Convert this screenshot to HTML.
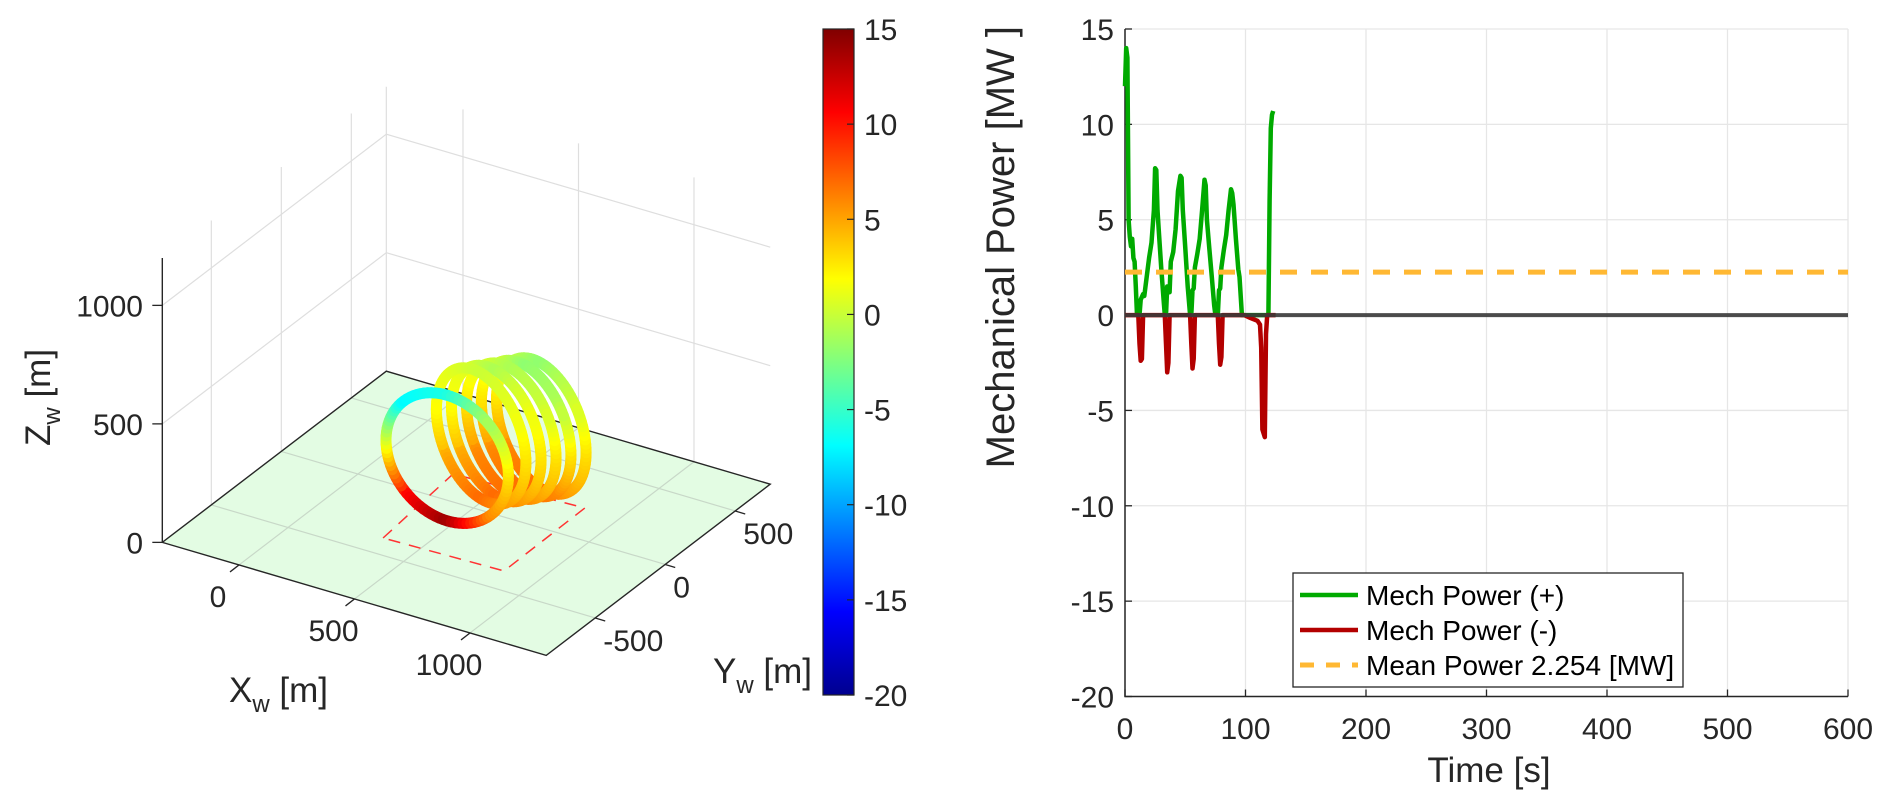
<!DOCTYPE html>
<html><head><meta charset="utf-8">
<style>
html,body{margin:0;padding:0;background:#fff;}
svg{display:block;font-family:"Liberation Sans",Arial,sans-serif;}
</style></head>
<body>
<svg id="fig" width="1892" height="807" viewBox="0 0 1892 807" xmlns="http://www.w3.org/2000/svg">
<defs>
<linearGradient id="jet" x1="0" y1="1" x2="0" y2="0">
<stop offset="0" stop-color="#00008f"/>
<stop offset="0.125" stop-color="#0000ff"/>
<stop offset="0.375" stop-color="#00ffff"/>
<stop offset="0.625" stop-color="#ffff00"/>
<stop offset="0.875" stop-color="#ff0000"/>
<stop offset="1" stop-color="#800000"/>
</linearGradient>
</defs>
<g id="left3d"></g>
<g id="cbar"></g>
<g id="right"></g>
</svg>
<script>
// ---------- Right chart data ----------
const xTicks = [0,100,200,300,400,500,600];
const yTicks = [15,10,5,0,-5,-10,-15,-20];
const greenT = [0,1,2,3,4,5,6,7,8,9,10,11,12,13,15,16,18,20,22,24,25,26,27,28,30,32,33,34,35,36,37,38,40,42,44,46,47,48,50,52,54,55,56,57,58,60,62,64,66,67,68,70,72,74,75,77,78,79,80,82,84,86,88,89,90,92,94,95,97,100,118,119,120,121,122,123];
const greenV = [12,14,13.5,5,4.1,3.6,4,3.0,2.8,1.5,0,0,0,0.8,1.1,1.0,2.0,3.0,3.8,5.5,7.7,7.6,5.5,4.5,2.5,0.8,0,0,1.5,1.5,1.2,2.8,3.3,4.5,6.5,7.3,7.2,5.5,3.5,1.5,0,0,1.3,1.4,2.5,3.2,4.0,5.5,7.1,6.8,5.0,3.5,2.0,0.5,0,0,1.3,1.4,2.5,3.4,4.2,5.5,6.6,6.4,5.8,4.0,2.4,2.0,0,0,0,0,6.0,9.8,10.5,10.7];
const redT = [0,11,12,13,14,15,33,34,35,36,37,54,55,56,57,58,77,78,79,80,81,99,104,110,112,113,114,115,116,117,118,125];
const redV = [0,0,-1.5,-2.4,-2.3,0,0,-1.5,-3.0,-2.5,0,0,-1.5,-2.8,-2.3,0,0,-1.5,-2.6,-2.2,0,0,-0.15,-0.3,-0.5,-1.7,-6.0,-6.2,-6.4,-1.0,0,0];
const meanPower = [2.254];
const zeroLine = [0];

// ---------- 3D data ----------
const zTicks3 = [0,500,1000];
const xTicks3 = [0,500,1000];
const yTicks3 = [-500,0,500];
const loopX = [485,501,538,575,611,648];
const loopY = [-163,53,100,146,193,240];
const loopZ = [280,280,280,280,280,280];
const loopColors = [
 [3,-1,-6,-7,1,10,14,6],
 [3,1,0,1,2,5,7,5],
 [3,1,-1,1,2,5,7,5],
 [3,0,-1,1,3,6,7,5],
 [3,-1,-2,1,3,6,7,6],
 [3,0,-2,0,3,6,7,5]
];
const zoneX = [340,297,848,853];
const zoneY = [-382,189,221,-364];
const cbarTicks = [15,10,5,0,-5,-10,-15,-20];

const NS="http://www.w3.org/2000/svg";
function mk(tag,attrs,parent){const e=document.createElementNS(NS,tag);for(const k in attrs)e.setAttribute(k,attrs[k]);parent.appendChild(e);return e;}

// ===== Right chart =====
(function(){
 const g=document.getElementById('right');
 const L=1125,R=1848,T=29,B=696.5;
 const xs=t=>L+(t-0)/600*(R-L);
 const ys=v=>T+(15-v)/35*(B-T);
 for(const t of xTicks){const l=mk('line',{x1:xs(t),x2:xs(t),y1:T,y2:B,stroke:'#e6e6e6','stroke-width':1.3},g);
  }
 for(const v of yTicks){const l=mk('line',{x1:L,x2:R,y1:ys(v),y2:ys(v),stroke:'#e6e6e6','stroke-width':1.3},g);
  }
 const ax=mk('path',{d:`M${L},${T} L${L},${B} L${R},${B}`,fill:'none',stroke:'#262626','stroke-width':1.5},g);
 
 for(const t of xTicks){const l=mk('line',{x1:xs(t),x2:xs(t),y1:B,y2:B-7,stroke:'#262626','stroke-width':1.3},g);
  
  const tx=mk('text',{x:xs(t),y:739,'text-anchor':'middle','font-size':30,fill:'#262626'},g);tx.textContent=t;
  }
 for(const v of yTicks){const l=mk('line',{x1:L,x2:L+7,y1:ys(v),y2:ys(v),stroke:'#262626','stroke-width':1.3},g);
  
  const tx=mk('text',{x:1114,y:ys(v)+11,'text-anchor':'end','font-size':30,fill:'#262626'},g);tx.textContent=v;
  }
 const path=(T_,V_)=>T_.map((t,i)=>(i?'L':'M')+xs(t).toFixed(1)+','+ys(V_[i]).toFixed(1)).join(' ');
 const gl=mk('path',{d:path(greenT,greenV),fill:'none',stroke:'#00aa00','stroke-width':4.5,'stroke-linejoin':'round'},g);
 
 const rl=mk('path',{d:path(redT,redV),fill:'none',stroke:'#b30000','stroke-width':4.5,'stroke-linejoin':'round'},g);
 
 const zl=mk('line',{x1:L,x2:R,y1:ys(zeroLine[0]),y2:ys(zeroLine[0]),stroke:'#3a3a3a','stroke-width':4,opacity:0.9},g);
 
 const ml=mk('line',{x1:L,x2:R,y1:ys(meanPower[0]),y2:ys(meanPower[0]),stroke:'#ffb833','stroke-width':5,'stroke-dasharray':'17 14'},g);
 
 const xl=mk('text',{x:1489,y:782,'text-anchor':'middle','font-size':35,fill:'#262626'},g);xl.textContent='Time [s]';
 
 const yl=mk('text',{x:1014,y:26,'text-anchor':'end','font-size':40,fill:'#262626',transform:'rotate(-90 1014 26)'},g);yl.textContent='Mechanical Power [MW ]';
 
 const lg=mk('g',{},g);
 mk('rect',{x:1293,y:573,width:390,height:114,fill:'#fff',stroke:'#262626','stroke-width':1.3},lg);
 const items=[['Mech Power (+)','#00aa00',''],['Mech Power (-)','#b30000',''],['Mean Power 2.254 [MW]','#ffb833','14 12']];
 items.forEach((it,i)=>{const y=595+i*35;
  const e=mk('g',{},lg);
  const a={x1:1300,x2:1358,y1:y,y2:y,stroke:it[1],'stroke-width':i==2?5:4.5};if(it[2])a['stroke-dasharray']=it[2];
  mk('line',a,e);
  const t=mk('text',{x:1366,y:y+10,'font-size':28,fill:'#000'},e);t.textContent=it[0];});
})();

// ===== 3D chart =====
(function(){
 const g=document.getElementById('left3d');
 const P=(X,Y,Z)=>[358+0.231*X+0.14*Y,474+0.068*X-0.107*Y-0.237*Z];
 const X0=-332,X1=1330,Y0=-850,Y1=750,Z1=1200;
 const line=(a,b,attrs,name)=>{const l=mk('line',Object.assign({x1:a[0],y1:a[1],x2:b[0],y2:b[1]},attrs),g);
  return l;};
 const grid={stroke:'#dedede','stroke-width':1.2};
 for(const z of zTicks3){line(P(X0,Y0,z),P(X0,Y1,z),grid,'left-wall-gridline');line(P(X0,Y1,z),P(X1,Y1,z),grid,'back-wall-gridline');}
 for(const y of yTicks3){line(P(X0,y,0),P(X0,y,Z1),grid,'left-wall-gridline');}
 for(const x of xTicks3){line(P(x,Y1,0),P(x,Y1,Z1),grid,'back-wall-gridline');}
 line(P(X0,Y1,0),P(X0,Y1,Z1),grid,'back-corner-line');
 const c=[P(X0,Y0,0),P(X1,Y0,0),P(X1,Y1,0),P(X0,Y1,0)];
 const fl=mk('polygon',{points:c.map(p=>p.join(',')).join(' '),fill:'#e3fce3',stroke:'none'},g);
 
 for(const x of xTicks3)line(P(x,Y0,0),P(x,Y1,0),{stroke:'#c8d8c8','stroke-width':1.2},'floor-gridline');
 for(const y of yTicks3)line(P(X0,y,0),P(X1,y,0),{stroke:'#c8d8c8','stroke-width':1.2},'floor-gridline');
 const ed=mk('polygon',{points:c.map(p=>p.join(',')).join(' '),fill:'none',stroke:'#262626','stroke-width':1.4},g);
 
 line(P(X0,Y0,0),P(X0,Y0,Z1),{stroke:'#262626','stroke-width':1.4},'z-axis-line');
 const zp=zoneX.map((x,i)=>P(x,zoneY[i],0));
 const zn=mk('polygon',{points:zp.map(p=>p.join(',')).join(' '),fill:'none',stroke:'#ff3333','stroke-width':1.5,'stroke-dasharray':'12 9'},g);
 
 for(const z of zTicks3){const p=P(X0,Y0,z);line([p[0]-10,p[1]],p,{stroke:'#262626','stroke-width':1.3},'z-tick');
  const t=mk('text',{x:143,y:p[1]+11,'text-anchor':'end','font-size':30,fill:'#262626'},g);t.textContent=z;
  }
 for(const x of xTicks3){const p=P(x,Y0,0);line(p,[p[0]-9,p[1]+7],{stroke:'#262626','stroke-width':1.3},'x-tick');
  const t=mk('text',{x:p[0]-21,y:p[1]+42,'text-anchor':'middle','font-size':30,fill:'#262626'},g);t.textContent=x;
  }
 for(const y of yTicks3){const p=P(X1,y,0);line(p,[p[0]+10,p[1]+3],{stroke:'#262626','stroke-width':1.3},'y-tick');
  const t=mk('text',{x:p[0]+8,y:p[1]+33,'text-anchor':'start','font-size':30,fill:'#262626'},g);t.textContent=y;
  }
 const lab=(x,y,main,rot,name)=>{const t=mk('text',{x:x,y:y,'font-size':35,fill:'#262626'},g);
  if(rot)t.setAttribute('transform','rotate(-90 '+x+' '+y+')');
  
  const a=mk('tspan',{},t);a.textContent=main;
  const b=mk('tspan',{'font-size':24,dy:10},t);b.textContent='w';
  const d=mk('tspan',{dy:-10},t);d.textContent=' [m]';};
 lab(229,702,'X',false,'x-axis-title');
 lab(713,683,'Y',false,'y-axis-title');
 lab(50,446,'Z',true,'z-axis-title');
 const jet=v=>{let t=(v+20)/35;t=Math.max(0,Math.min(1,t));
  const f=(a)=>Math.max(0,Math.min(1,a));
  const r=f(Math.min(4*t-1.5,-4*t+4.5)),gg=f(Math.min(4*t-0.5,-4*t+3.5)),b=f(Math.min(4*t+0.5,-4*t+2.5));
  return `rgb(${Math.round(r*255)},${Math.round(gg*255)},${Math.round(b*255)})`;};
 const R=265,N=96,segs=[];
 loopX.forEach((cx,i)=>{const phi=i==0?0:-0.35;const ux=Math.cos(phi),uy=Math.sin(phi);
  const cols=loopColors[i];
  for(let k=0;k<N;k++){const th0=2*Math.PI*k/N,th1=2*Math.PI*(k+1)/N,thm=(th0+th1)/2;
   const pt=th=>[cx+R*Math.cos(th)*ux,loopY[i]+R*Math.cos(th)*uy,loopZ[i]+R*Math.sin(th)];
   const a=pt(th0),b=pt(th1),m=pt(thm);
   const s=thm/(Math.PI/4),j=Math.floor(s)%8,fr=s-Math.floor(s);
   const val=cols[j]*(1-fr)+cols[(j+1)%8]*fr;
   segs.push({a:P(...a),b:P(...b),d:m[0]-1.65*m[1]+1.03*m[2],col:jet(val)});}});
 segs.sort((p,q)=>p.d-q.d);
 const hg=mk('g',{},g);
 for(const s of segs){const l=mk('line',{x1:s.a[0],y1:s.a[1],x2:s.b[0],y2:s.b[1],stroke:s.col,'stroke-width':11,'stroke-linecap':'round'},hg);
  }
})();

// ===== Colorbar =====
(function(){
 const g=document.getElementById('cbar');
 const T=29,B=695,L=823,Rr=854;
 const ys=v=>T+(15-v)/35*(B-T);
 const r=mk('rect',{x:L,y:T,width:Rr-L,height:B-T,fill:'url(#jet)',stroke:'#262626','stroke-width':1.2},g);
 
 for(const v of cbarTicks){const l=mk('line',{x1:Rr-7,x2:Rr,y1:ys(v),y2:ys(v),stroke:'#262626','stroke-width':1.2},g);
  
  const t=mk('text',{x:864,y:ys(v)+11,'font-size':30,fill:'#262626'},g);t.textContent=v;
  }
})();
</script>
</body></html>
